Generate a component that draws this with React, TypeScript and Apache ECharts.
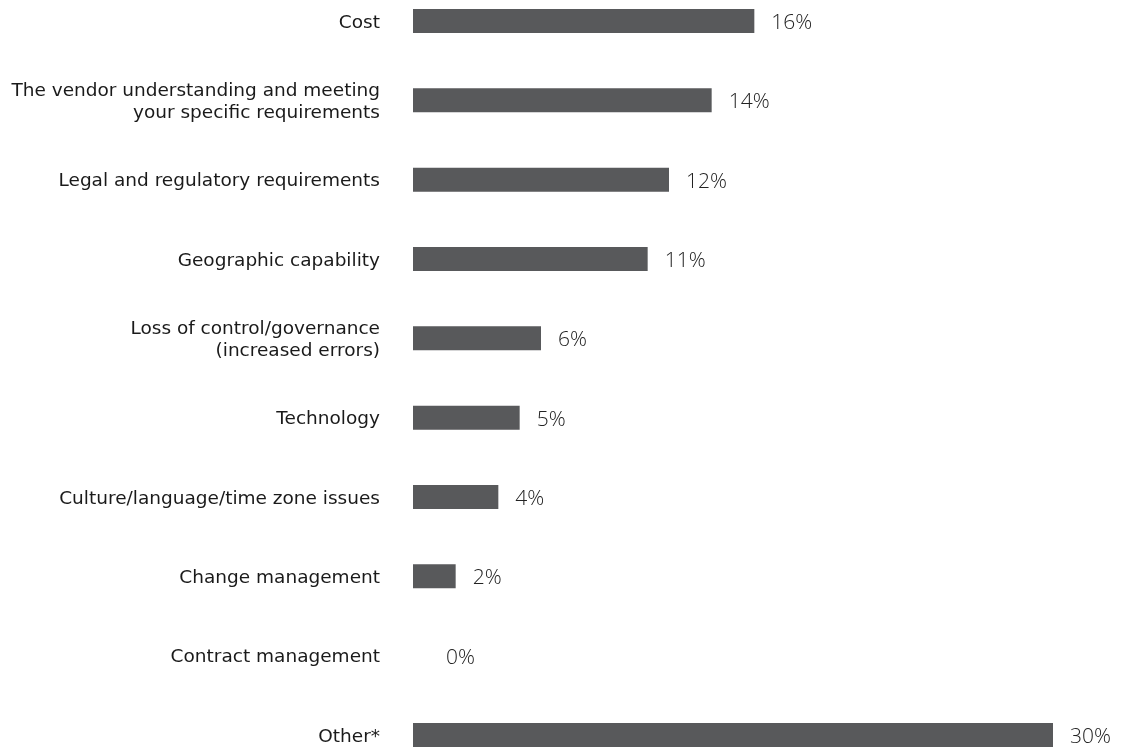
import React, { useEffect, useRef } from "react";
import * as echarts from "echarts";

const categories = [
  "Cost",
  "The vendor understanding and meeting\nyour specific requirements",
  "Legal and regulatory requirements",
  "Geographic capability",
  "Loss of control/governance\n(increased errors)",
  "Technology",
  "Culture/language/time zone issues",
  "Change management",
  "Contract management",
  "Other*",
];
const values = [16, 14, 12, 11, 6, 5, 4, 2, 0, 30];

export default function App() {
  const ref = useRef<HTMLDivElement>(null);
  useEffect(() => {
    document.body.style.margin = "0";
    const chart = echarts.init(ref.current!, null, { renderer: "svg" });
    chart.setOption({
      animation: false,
      grid: { left: 413, right: 77, top: 21, bottom: 13, containLabel: false },
      xAxis: {
        type: "value",
        min: 0,
        max: 30,
        show: false,
      },
      yAxis: {
        type: "category",
        data: categories,
        inverse: true,
        boundaryGap: false,
        axisLine: { show: false },
        axisTick: { show: false },
        splitLine: { show: false },
        axisLabel: {
          margin: 33,
          color: "#1a1a1a",
          fontFamily: "DejaVu Sans",
          fontSize: 18.5,
          lineHeight: 22,
          align: "right",
        },
      },
      series: [
        {
          type: "bar",
          barWidth: 24,
          itemStyle: { color: "#58595b" },
          data: values.map((v) =>
            v === 0
              ? { value: v, label: { distance: 33 } }
              : { value: v }
          ),
          label: {
            show: true,
            position: "right",
            distance: 17,
            formatter: "{c}%",
            color: "#222",
            fontFamily: "Open Sans",
            fontWeight: 300,
            fontSize: 21,
          },
        },
      ],
    });
    return () => chart.dispose();
  }, []);
  return (
    <div
      ref={ref}
      style={{ position: "fixed", left: 0, top: 0, width: 1130, height: 748 }}
    />
  );
}
